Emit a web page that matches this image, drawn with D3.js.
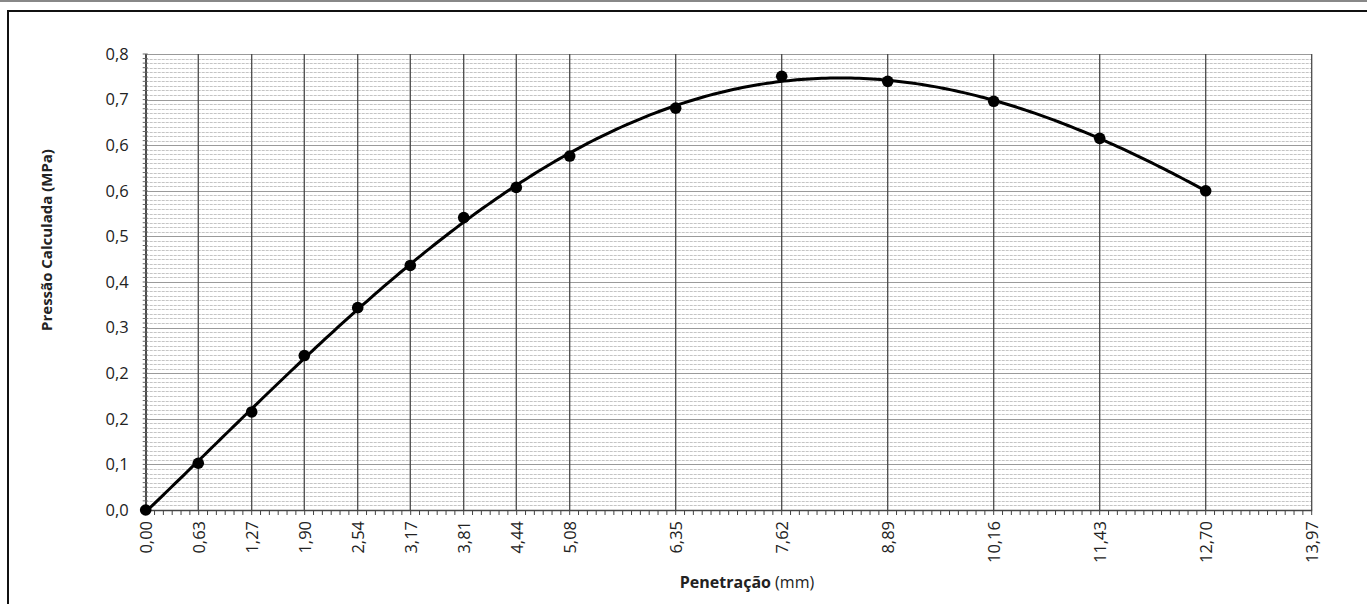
<!DOCTYPE html>
<html lang="pt">
	<head>
		<meta charset="utf-8">
		<title>Pressão x Penetração</title>
		<script src="https://d3js.org/d3.v7.min.js"></script>
		<style type="text/css">
			body { margin: 0; background: #fff; }
			text { font-family: "Open Sans", sans-serif; fill: #222; }
		</style>
	</head>
	<body>
		<script type="text/javascript">
			// penetration (mm) and calculated pressure (MPa)
			var penetracao = [0.00, 0.63, 1.27, 1.90, 2.54, 3.17, 3.81, 4.44, 5.08, 6.35, 7.62, 8.89, 10.16, 11.43, 12.70];
			var pressao = [0.000, 0.082, 0.172, 0.271, 0.355, 0.429, 0.513, 0.566, 0.621, 0.705, 0.761, 0.752, 0.717, 0.652, 0.560];

			var xTicks = [0.00, 0.63, 1.27, 1.90, 2.54, 3.17, 3.81, 4.44, 5.08, 6.35, 7.62, 8.89, 10.16, 11.43, 12.70, 13.97];
			var xTickLabels = ["0,00", "0,63", "1,27", "1,90", "2,54", "3,17", "3,81", "4,44", "5,08", "6,35", "7,62", "8,89", "10,16", "11,43", "12,70", "13,97"];
			var yTicks = [0, 0.08, 0.16, 0.24, 0.32, 0.40, 0.48, 0.56, 0.64, 0.72, 0.80];
			var yTickLabels = ["0,0", "0,1", "0,2", "0,2", "0,3", "0,4", "0,5", "0,6", "0,6", "0,7", "0,8"];

			//Width and height
			var w = 1367;
			var h = 604;
			// plot area edges (window.top is reserved, so use other names)
			var pLeft = 145.7, pRight = 1311.7, pTop = 54, pBottom = 510;

			var x = d3.scaleLinear().domain([0, 13.97]).range([pLeft, pRight]);
			var y = d3.scaleLinear().domain([0, 0.8]).range([pBottom, pTop]);

			var svg = d3.select("body")
						.append("svg")
						.attr("width", w)
						.attr("height", h);

			// scan edge and chart frame
			svg.append("rect").attr("x", 0).attr("y", 0).attr("width", w).attr("height", 2).style("fill", "#888");
			svg.append("rect")
				.attr("x", 8).attr("y", 11)
				.attr("width", 1500).attr("height", 800)
				.style("fill", "none").style("stroke", "#111").style("stroke-width", 2);

			// minor horizontal grid (every 0.008)
			var minorY = d3.range(0, 101).map(function(i){ return i * 0.008; });
			svg.append("g").selectAll("line")
				.data(minorY)
				.enter()
				.append("line")
				.attr("x1", pLeft).attr("x2", pRight)
				.attr("y1", function(d){ return Math.round(y(d)) + 0.5; })
				.attr("y2", function(d){ return Math.round(y(d)) + 0.5; })
				.style("stroke", function(d, i){ return i % 10 == 0 ? "#9a9a9a" : "#c4c4c4"; })
				.style("stroke-dasharray", function(d, i){ return i % 10 == 0 ? null : "3,1"; })
				.style("stroke-width", 1);

			// vertical major grid
			svg.append("g").selectAll("line")
				.data(xTicks)
				.enter()
				.append("line")
				.attr("x1", function(d){ return x(d); })
				.attr("x2", function(d){ return x(d); })
				.attr("y1", pTop).attr("y2", pBottom)
				.style("stroke", "#4a4a4a")
				.style("stroke-width", 1.3);

			// axes
			var xAxis = d3.axisBottom(x)
				.tickValues(xTicks)
				.tickSize(0)
				.tickFormat(function(d, i){ return xTickLabels[i]; });
			var gx = svg.append("g").attr("transform", "translate(0," + pBottom + ")").call(xAxis);
			gx.select(".domain").style("stroke", "#444").style("stroke-width", 1.5);
			gx.selectAll("text")
				.attr("transform", "rotate(-90)")
				.attr("x", -11).attr("y", 0).attr("dy", "0.35em")
				.style("text-anchor", "end")
				.style("font-size", "16.5px");

			// minor ticks on x (1,27 / 12)
			var minorX = d3.range(0, 133).map(function(i){ return i * 1.27 / 12; }).filter(function(d){ return d <= 13.98; });
			svg.append("g").selectAll("line")
				.data(minorX)
				.enter()
				.append("line")
				.attr("x1", function(d){ return x(d); })
				.attr("x2", function(d){ return x(d); })
				.attr("y1", pBottom).attr("y2", pBottom + 5)
				.style("stroke", "#444").style("stroke-width", 1);

			var yAxis = d3.axisLeft(y)
				.tickValues(yTicks)
				.tickSize(0)
				.tickFormat(function(d, i){ return yTickLabels[i]; });
			var gy = svg.append("g").attr("transform", "translate(" + pLeft + ",0)").call(yAxis);
			gy.select(".domain").style("stroke", "#444").style("stroke-width", 1.5);
			gy.selectAll("text").attr("x", -17).style("font-size", "16.5px");

			svg.append("g").selectAll("line")
				.data(minorY)
				.enter()
				.append("line")
				.attr("x1", pLeft - 3).attr("x2", pLeft + 2)
				.attr("y1", function(d){ return y(d); })
				.attr("y2", function(d){ return y(d); })
				.style("stroke", "#666").style("stroke-width", 1);

			// axis titles
			var xt = svg.append("text")
				.attr("x", 747).attr("y", 588)
				.style("text-anchor", "middle")
				.style("font-size", "16px");
			xt.append("tspan").style("font-weight", "bold").text("Penetração");
			xt.append("tspan").text(" (mm)");

			svg.append("text")
				.attr("transform", "translate(52,240) rotate(-90)")
				.style("text-anchor", "middle")
				.style("font-size", "15px")
				.style("font-weight", "bold")
				.text("Pressão Calculada (MPa)");

			// polynomial trendline (least squares, x normalised) fitted to the points
			function polyfit(xs, ys, n) {
				var m = n + 1, A = [], b = [];
				for (var r = 0; r < m; r++) {
					A.push([]);
					for (var c = 0; c < m; c++) A[r].push(d3.sum(xs, function(v){ return Math.pow(v, r + c); }));
					b.push(d3.sum(xs, function(v, k){ return ys[k] * Math.pow(v, r); }));
				}
				for (var i = 0; i < m; i++) {
					var p = i;
					for (var q = i + 1; q < m; q++) if (Math.abs(A[q][i]) > Math.abs(A[p][i])) p = q;
					var t = A[i]; A[i] = A[p]; A[p] = t;
					var tb = b[i]; b[i] = b[p]; b[p] = tb;
					for (var j = i + 1; j < m; j++) {
						var f = A[j][i] / A[i][i];
						for (var k = i; k < m; k++) A[j][k] -= f * A[i][k];
						b[j] -= f * b[i];
					}
				}
				var coef = new Array(m);
				for (var i2 = m - 1; i2 >= 0; i2--) {
					var s = b[i2];
					for (var k2 = i2 + 1; k2 < m; k2++) s -= A[i2][k2] * coef[k2];
					coef[i2] = s / A[i2][i2];
				}
				return coef;
			}
			var xMax = d3.max(penetracao);
			var coef = polyfit(penetracao.map(function(v){ return v / xMax; }), pressao, 5);
			var trend = d3.range(0, xMax + 0.001, 0.05).map(function(v){
				var u = v / xMax;
				return [v, coef.reduce(function(a, c, i){ return a + c * Math.pow(u, i); }, 0)];
			});
			svg.append("path")
				.datum(trend)
				.attr("d", d3.line().x(function(d){ return x(d[0]); }).y(function(d){ return y(d[1]); }))
				.style("fill", "none")
				.style("stroke", "#000")
				.style("stroke-width", 3);

			svg.append("g").selectAll("circle")
				.data(penetracao)
				.enter()
				.append("circle")
				.attr("cx", function(d){ return x(d); })
				.attr("cy", function(d, i){ return y(pressao[i]); })
				.attr("r", 5.8)
				.style("fill", "#000");
		</script>
	</body>
</html>
